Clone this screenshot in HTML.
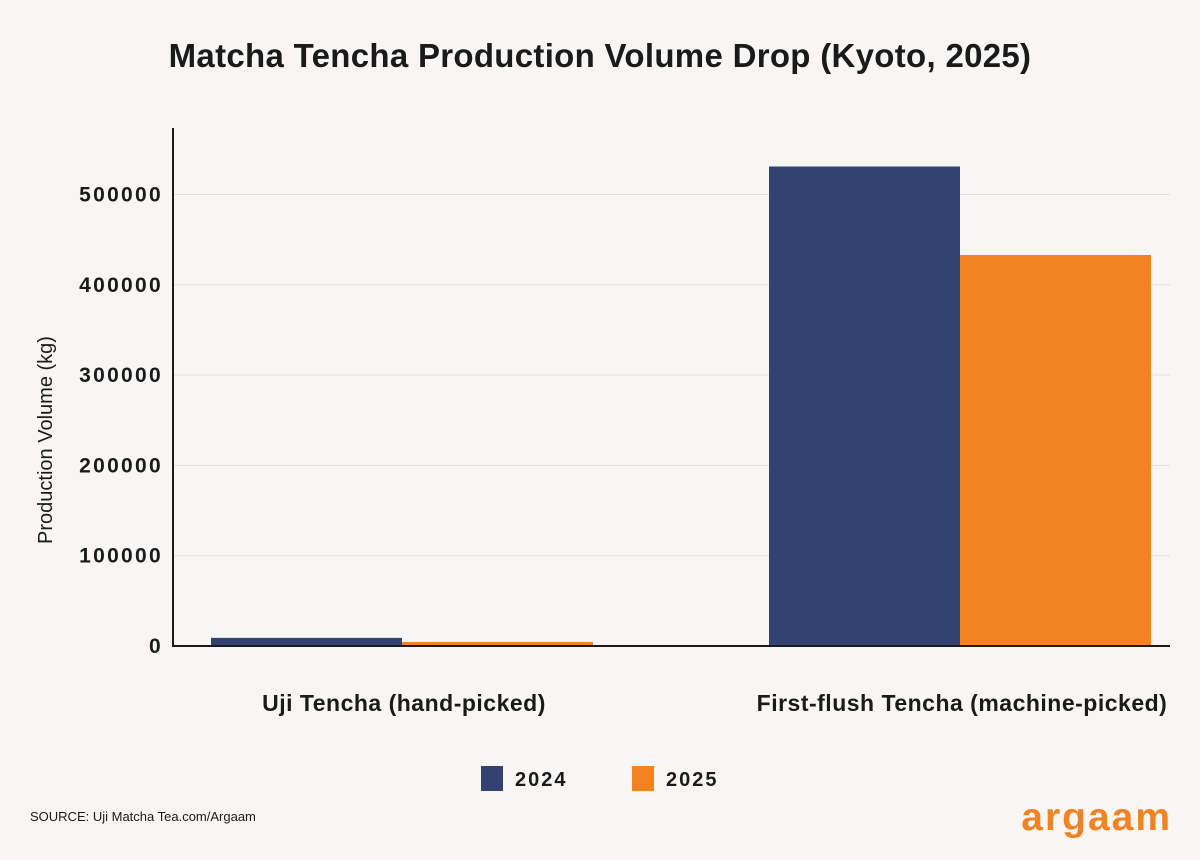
<!DOCTYPE html>
<html><head><meta charset="utf-8"><style>
body{margin:0;background:#f8f6f4;}
svg{display:block;font-family:"Liberation Sans",sans-serif;}
</style></head><body>
<svg id="chart" width="1200" height="860" viewBox="0 0 1200 860">
<rect width="1200" height="860" fill="#f8f6f4"/>
<text x="600" y="67" text-anchor="middle" font-size="33" font-weight="bold" fill="#1a1a1a" letter-spacing="0.3">Matcha Tencha Production Volume Drop (Kyoto, 2025)</text>
<g id="grid"></g><g id="bars"></g><g id="axes"></g>
<text transform="translate(52,440) rotate(-90)" text-anchor="middle" font-size="20" fill="#1a1a1a">Production Volume (kg)</text>
<rect x="481" y="766" width="22" height="25" fill="#334371"/>
<text x="515" y="786" font-size="20" font-weight="bold" fill="#1a1a1a" letter-spacing="2">2024</text>
<rect x="632" y="766" width="22" height="25" fill="#f28322"/>
<text x="666" y="786" font-size="20" font-weight="bold" fill="#1a1a1a" letter-spacing="2">2025</text>
<text x="30" y="821" font-size="13" fill="#1a1a1a">SOURCE: Uji Matcha Tea.com/Argaam</text>
<text x="1172" y="830" text-anchor="end" font-size="39" font-weight="bold" fill="#f28322" letter-spacing="2">argaam</text>
</svg>
<script>
const categories=["Uji Tencha (hand-picked)","First-flush Tencha (machine-picked)"];
const values2024=[9000,531000];
const values2025=[4500,433000];
const tickValues=[0,100000,200000,300000,400000,500000];
const ns="http://www.w3.org/2000/svg";
const x0=173,x1=1170,y0=646,pxPer=0.000903;
const y=v=>y0-v*pxPer;
function mk(tag,attrs,parent){const e=document.createElementNS(ns,tag);for(const k in attrs)e.setAttribute(k,attrs[k]);parent.appendChild(e);return e;}
const grid=document.getElementById('grid'),bars=document.getElementById('bars'),axes=document.getElementById('axes');
tickValues.forEach(t=>{
 if(t>0){const l=mk('line',{x1:x0,x2:x1,y1:y(t),y2:y(t),stroke:'#e2dfdc','stroke-width':1},grid);
 
 }
 const tx=mk('text',{x:163,y:y(t)+7,'text-anchor':'end','font-size':21,'font-weight':'bold',fill:'#1a1a1a','letter-spacing':2.3},axes);
 tx.textContent=t;
 
 
});
const groupStarts=[211,769],bw=191;
categories.forEach((c,i)=>{
 const gx=groupStarts[i];
 const b1=mk('rect',{x:gx,y:y(values2024[i]),width:bw,height:values2024[i]*pxPer,fill:'#334371'},bars);
 
 
 const b2=mk('rect',{x:gx+bw,y:y(values2025[i]),width:bw,height:values2025[i]*pxPer,fill:'#f28322'},bars);
 
 
 const t=mk('text',{x:gx+bw+2,y:711,'text-anchor':'middle','font-size':23,'font-weight':'bold',fill:'#1a1a1a','letter-spacing':0.5},axes);
 t.textContent=c;
 
 
});
const ya=mk('line',{x1:x0,x2:x0,y1:128,y2:y0+1,stroke:'#1a1a1a','stroke-width':2},axes);


const xa=mk('line',{x1:x0-1,x2:x1,y1:y0,y2:y0,stroke:'#1a1a1a','stroke-width':2},axes);


</script>
</body></html>
